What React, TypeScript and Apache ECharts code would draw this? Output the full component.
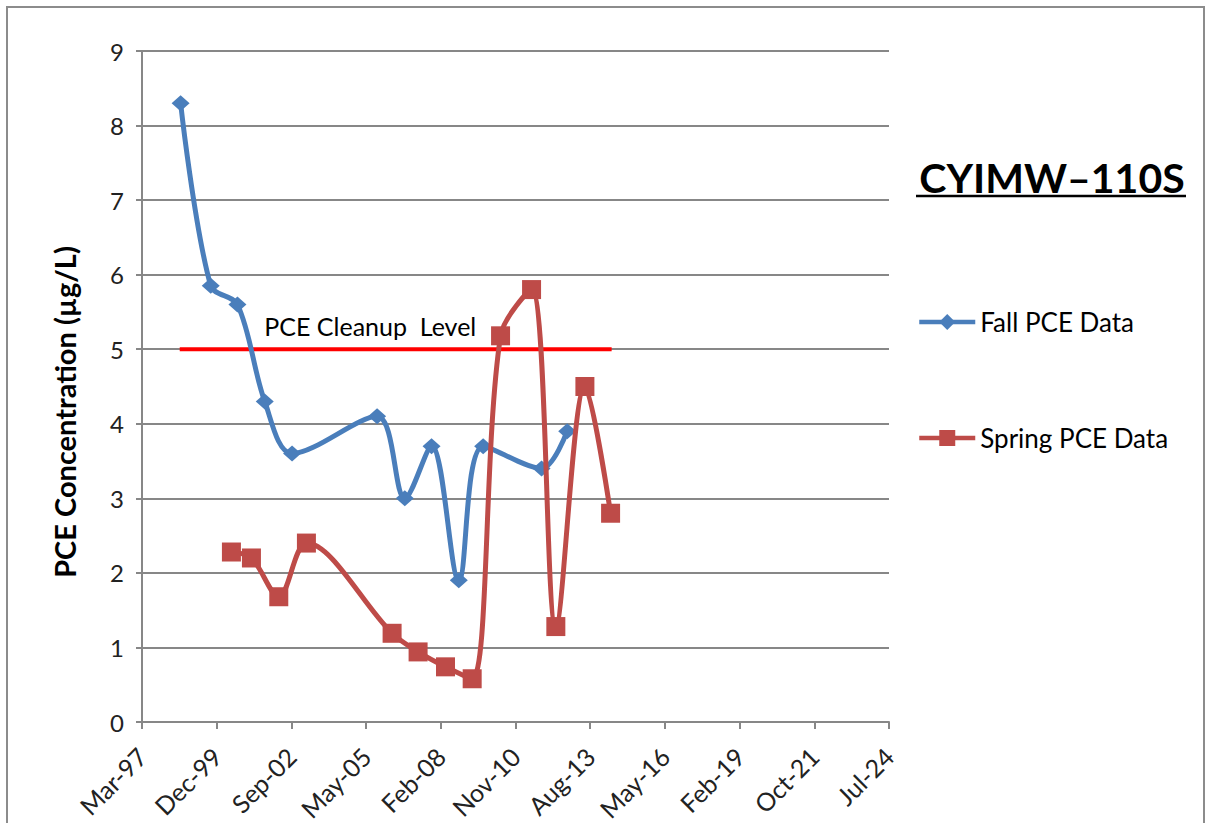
import React, { useEffect, useRef } from "react";
import * as echarts from "echarts";

// Dates are sampling dates; values are PCE concentrations (µg/L)
const FALL_DATES = [
  "1998-08-10", "1999-09-17", "2000-09-09", "2001-09-09", "2002-09-10",
  "2005-10-22", "2006-10-28", "2007-10-21", "2008-10-20", "2009-09-11",
  "2011-11-02", "2012-10-10",
];
const FALL_VALUES = [8.3, 5.85, 5.6, 4.3, 3.6, 4.1, 3.0, 3.7, 1.9, 3.7, 3.4, 3.9];

const SPRING_DATES = [
  "2000-06-20", "2001-03-15", "2002-03-16", "2003-03-21", "2006-05-11",
  "2007-04-24", "2008-04-25", "2009-04-17", "2010-05-02", "2011-06-21",
  "2012-05-11", "2013-06-04", "2014-05-14",
];
const SPRING_VALUES = [2.28, 2.2, 1.68, 2.4, 1.19, 0.94, 0.74, 0.58, 5.18, 5.8, 1.28, 4.5, 2.8];

const CLEANUP_DATES = ["1998-07-29", "2014-05-28"];
const CLEANUP_VALUES = [5, 5];
const CLEANUP_LABEL = "PCE Cleanup  Level";
const CLEANUP_LABEL_DATE = "2005-07-23";

const TITLE = "CYIMW–110S";
const Y_TITLE = "PCE Concentration (µg/L)";
const SERIES_NAMES = ["Fall PCE Data", "Spring PCE Data", "PCE Cleanup Level"];
const MONTHS = ["Jan", "Feb", "Mar", "Apr", "May", "Jun", "Jul", "Aug", "Sep", "Oct", "Nov", "Dec"];

// x axis: days counted from 1997-03-11 (Excel serial 35500), ticks every 1000 days
const ORIGIN = Date.UTC(1997, 2, 11);
const DAY = 86400000;
const toDays = (iso: string) => {
  const [y, m, d] = iso.split("-").map(Number);
  return (Date.UTC(y, m - 1, d) - ORIGIN) / DAY;
};
const fmt = (v: number) => {
  const dt = new Date(ORIGIN + v * DAY);
  return `${MONTHS[dt.getUTCMonth()]}-${String(dt.getUTCFullYear() % 100).padStart(2, "0")}`;
};

const FONT = "Lato";

export default function App() {
  const ref = useRef<HTMLDivElement>(null);
  useEffect(() => {
    if (!ref.current) return;
    const chart = echarts.init(ref.current, undefined, { renderer: "svg" });
    const fall = FALL_DATES.map((d, i) => [toDays(d), FALL_VALUES[i]]);
    const spring = SPRING_DATES.map((d, i) => [toDays(d), SPRING_VALUES[i]]);
    const cleanup = CLEANUP_DATES.map((d, i) => [toDays(d), CLEANUP_VALUES[i]]);
    chart.setOption({
      animation: false,
      backgroundColor: "#fff",
      textStyle: { fontFamily: FONT },
      grid: {
        left: 142,
        right: 317,
        top: 51,
        bottom: 101,
        containLabel: false,
        outerBoundsMode: "none",
      },
      graphic: [
        {
          type: "rect",
          shape: { x: 7, y: 7, width: 1197, height: 830 },
          style: { fill: "none", stroke: "#8c8c8c", lineWidth: 2 },
          silent: true,
        },
        {
          type: "text",
          x: 64,
          y: 412,
          rotation: Math.PI / 2,
          style: {
            text: Y_TITLE,
            fontFamily: FONT,
            fontSize: 29,
            fontWeight: "bold",
            fill: "#000",
            align: "center",
            verticalAlign: "middle",
          },
        },
        {
          type: "text",
          x: 1052,
          y: 177,
          style: {
            text: TITLE,
            fontFamily: FONT,
            fontSize: 41,
            fontWeight: "bold",
            fill: "#000",
            align: "center",
            verticalAlign: "middle",
          },
        },
        {
          type: "line",
          shape: { x1: 916, y1: 196, x2: 1186, y2: 196 },
          style: { stroke: "#000", lineWidth: 2.5 },
        },
      ],
      legend: {
        data: [SERIES_NAMES[0], SERIES_NAMES[1]],
        orient: "vertical",
        left: 917,
        top: 307,
        padding: 0,
        itemWidth: 56,
        itemHeight: 20,
        itemGap: 86,
        lineStyle: { width: 4.5 },
        textStyle: { fontFamily: FONT, fontSize: 26, lineHeight: 30, color: "#000" },
      },
      xAxis: {
        type: "value",
        min: 0,
        max: 10000,
        interval: 1000,
        splitLine: { show: false },
        axisLine: { show: true, onZero: false, lineStyle: { color: "#878787", width: 2 } },
        axisTick: { show: true, length: 7, lineStyle: { color: "#878787", width: 2 } },
        axisLabel: {
          rotate: 45,
          margin: 30,
          fontFamily: FONT,
          fontSize: 25,
          color: "#222",
          formatter: (v: number) => fmt(v),
        },
      },
      yAxis: {
        type: "value",
        min: 0,
        max: 9,
        interval: 1,
        splitLine: { show: true, lineStyle: { color: "#878787", width: 2 } },
        axisLine: { show: true, lineStyle: { color: "#878787", width: 2 } },
        axisTick: { show: true, length: 6, lineStyle: { color: "#878787", width: 2 } },
        axisLabel: { margin: 18, fontFamily: FONT, fontSize: 24, color: "#222" },
      },
      series: [
        {
          name: SERIES_NAMES[0],
          type: "line",
          data: fall,
          smooth: 0.33,
          symbol: "diamond",
          symbolSize: [18, 16],
          itemStyle: { color: "#4A7EBB" },
          lineStyle: { color: "#4A7EBB", width: 5 },
          z: 3,
        },
        {
          name: SERIES_NAMES[1],
          type: "line",
          data: spring,
          smooth: 0.33,
          symbol: "rect",
          symbolSize: 19,
          itemStyle: { color: "#BE4B48" },
          lineStyle: { color: "#BE4B48", width: 5 },
          z: 4,
        },
        {
          name: SERIES_NAMES[2],
          type: "line",
          data: cleanup,
          symbol: "none",
          lineStyle: { color: "#FF0000", width: 4 },
          markPoint: {
            symbol: "circle",
            symbolSize: 0,
            silent: true,
            data: [
              {
                coord: [toDays(CLEANUP_LABEL_DATE), 5],
                label: {
                  show: true,
                  position: "top",
                  distance: 11,
                  formatter: CLEANUP_LABEL,
                  fontFamily: FONT,
                  fontSize: 25,
                  color: "#000",
                },
              },
            ],
          },
          z: 2,
        },
      ],
    });
    return () => chart.dispose();
  }, []);
  return (
    <div
      ref={ref}
      style={{ position: "fixed", left: 0, top: 0, width: 1206, height: 823 }}
    />
  );
}
